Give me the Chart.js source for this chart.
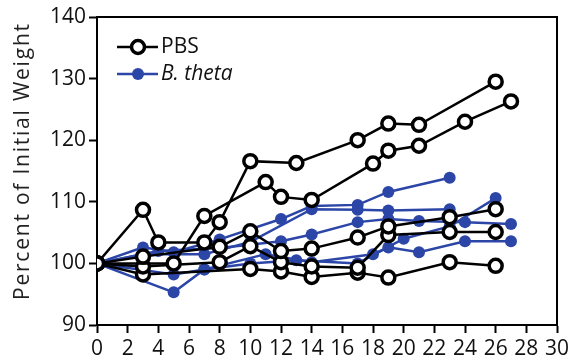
<!DOCTYPE html>
<html>
<head>
<meta charset="utf-8">
<script src="https://cdn.jsdelivr.net/npm/chart.js@4"></script>
<style>
  html, body { margin: 0; padding: 0; background: #fff; }
  #wrap { width: 579px; height: 364px; }
</style>
</head>
<body>
<div id="wrap"><canvas id="chart" width="579" height="364"></canvas></div>
<script>
"use strict";
// days on x, percent of initial weight on y
const xTicks = [0, 2, 4, 6, 8, 10, 12, 14, 16, 18, 20, 22, 24, 26, 28, 30];
const yTicks = [90, 100, 110, 120, 130, 140];
const legendNames = ["PBS", "B. theta"];
const yTitle = "Percent of Initial Weight";

// PBS mice
const pbs1 = [[0, 100], [3, 108.7], [4, 103.4], [7, 103.4], [8, 106.7], [10, 116.6], [13, 116.3], [17, 120], [19, 122.7], [21, 122.5], [26, 129.5]];
const pbs2 = [[0, 100], [5, 100], [7, 107.7], [11, 113.2], [12, 110.8], [14, 110.3], [18, 116.2], [19, 118.3], [21, 119.1], [24, 123], [27, 126.3]];
const pbs3 = [[0, 100], [3, 101.1], [8, 102.7], [10, 105.2], [12, 102], [14, 102.4], [17, 104.2], [19, 106], [23, 107.5], [26, 108.8]];
const pbs4 = [[0, 100], [3, 99.5], [8, 100.2], [10, 102.8], [12, 100.2], [14, 99.5], [17, 99.3], [19, 104.6], [23, 105.1], [26, 105.1]];
const pbs5 = [[0, 100], [3, 98.2], [10, 99.1], [12, 98.7], [14, 97.8], [17, 98.5], [19, 97.7], [23, 100.2], [26, 99.6]];

// B. theta mice
const bt1 = [[0, 100], [3, 102.6], [5, 101.8], [8, 103.9], [12, 107.2], [14, 109.3], [17, 109.5], [19, 111.6], [23, 113.9]];
const bt2 = [[0, 100], [3, 101.5], [7, 101.5], [10, 103.5], [14, 108.8], [17, 108.7], [19, 108.6], [23, 108.8]];
const bt3 = [[0, 100], [4, 102], [8, 102.5], [12, 103.6], [14, 104.7], [17, 106.7], [19, 107.2], [21, 106.9], [24, 106.7], [27, 106.4]];
const bt4 = [[0, 100], [5, 98.2], [7, 99], [11, 101.5], [14, 100.2], [18, 101.5], [19, 102.6], [21, 101.8], [24, 103.6], [27, 103.6]];
const bt5 = [[0, 100], [5, 95.3], [7, 99], [10, 100], [13, 100.5], [17, 100], [20, 104], [23, 106], [26, 110.6]];

const pbsLines = [pbs1, pbs2, pbs3, pbs4, pbs5];
const btLines = [bt1, bt2, bt3, bt4, bt5];

const BLUE = "#2c46a8";
const FONT = "'Open Sans', 'DejaVu Sans', sans-serif";

const toXY = (arr) => arr.map(([x, y]) => ({ x, y }));

const datasets = [];
pbsLines.forEach((line) => {
  datasets.push({
    label: legendNames[0],
    data: toXY(line),
    borderColor: "#000",
    borderWidth: 2.5,
    pointRadius: 6.5,
    pointBorderWidth: 3.5,
    pointBackgroundColor: "#fff",
    pointBorderColor: "#000",
    order: 0,
  });
});
btLines.forEach((line) => {
  datasets.push({
    label: legendNames[1],
    data: toXY(line),
    borderColor: BLUE,
    borderWidth: 2.5,
    pointRadius: 6,
    pointBorderWidth: 0,
    pointBackgroundColor: BLUE,
    pointBorderColor: BLUE,
    order: 1,
  });
});

// box around the plot, y title and the little legend in the corner
const frame = {
  id: "frame",
  afterDraw(chart) {
    const { ctx, chartArea: a } = chart;
    ctx.save();
    ctx.strokeStyle = "#000";
    ctx.lineWidth = 2;
    ctx.beginPath();
    ctx.moveTo(a.left, a.top);
    ctx.lineTo(a.right, a.top);
    ctx.lineTo(a.right, a.bottom);
    ctx.stroke();

    // y title, spread out to the length it has in the figure
    ctx.save();
    ctx.translate(23, 162);
    ctx.rotate(-Math.PI / 2);
    ctx.font = "21px " + FONT;
    ctx.fillStyle = "#222";
    ctx.textAlign = "center";
    ctx.textBaseline = "middle";
    const w = ctx.measureText(yTitle).width;
    const extra = (276 - w) / (yTitle.length - 1);
    if ("letterSpacing" in ctx && extra > 0) {
      ctx.letterSpacing = extra.toFixed(2) + "px";
      ctx.fillText(yTitle, extra / 2, 0);
      ctx.letterSpacing = "0px";
    } else {
      ctx.scale(276 / w, 1);
      ctx.fillText(yTitle, 0, 0);
    }
    ctx.restore();

    const rows = [
      { name: legendNames[0], y: 47, color: "#000", open: true, italic: false },
      { name: legendNames[1], y: 74, color: BLUE, open: false, italic: true },
    ];
    rows.forEach((r) => {
      ctx.strokeStyle = r.color;
      ctx.lineWidth = 2.5;
      ctx.beginPath();
      ctx.moveTo(117, r.y);
      ctx.lineTo(158, r.y);
      ctx.stroke();
      ctx.beginPath();
      if (r.open) {
        ctx.arc(138, r.y, 6.5, 0, Math.PI * 2);
        ctx.fillStyle = "#fff";
        ctx.fill();
        ctx.lineWidth = 3.5;
        ctx.stroke();
      } else {
        ctx.arc(138, r.y, 6, 0, Math.PI * 2);
        ctx.fillStyle = r.color;
        ctx.fill();
      }
      ctx.fillStyle = "#111";
      ctx.font = (r.italic ? "italic " : "") + "21px " + FONT;
      ctx.textBaseline = "middle";
      ctx.textAlign = "left";
      ctx.fillText(r.name, 161, r.y);
    });
    ctx.restore();
  },
};

new Chart(document.querySelector("#chart").getContext("2d"), {
  type: "line",
  data: { datasets },
  plugins: [frame],
  options: {
    responsive: false,
    animation: false,
    layout: { padding: { left: 0, right: 22, top: 17, bottom: 0 } },
    plugins: { legend: { display: false }, tooltip: { enabled: false } },
    scales: {
      x: {
        type: "linear",
        min: 0,
        max: 30,
        afterBuildTicks: (scale) => {
          scale.ticks = xTicks.map((v) => ({ value: v }));
        },
        afterFit: (scale) => {
          scale.height = 39;
        },
        ticks: {
          autoSkip: false,
          maxRotation: 0,
          padding: 3,
          color: "#111",
          font: { family: FONT, size: 21 },
        },
        grid: {
          drawOnChartArea: false,
          color: "#000",
          tickLength: 8,
          tickWidth: 2,
        },
        border: { color: "#000", width: 2 },
      },
      y: {
        min: 90,
        max: 140,
        afterBuildTicks: (scale) => {
          scale.ticks = yTicks.map((v) => ({ value: v }));
        },
        afterFit: (scale) => {
          scale.width = 97;
        },
        ticks: {
          padding: 3,
          color: "#111",
          font: { family: FONT, size: 21 },
        },
        grid: {
          drawOnChartArea: false,
          color: "#000",
          tickLength: 8,
          tickWidth: 2,
        },
        border: { color: "#000", width: 2 },
      },
    },
  },
});
</script>
</body>
</html>
